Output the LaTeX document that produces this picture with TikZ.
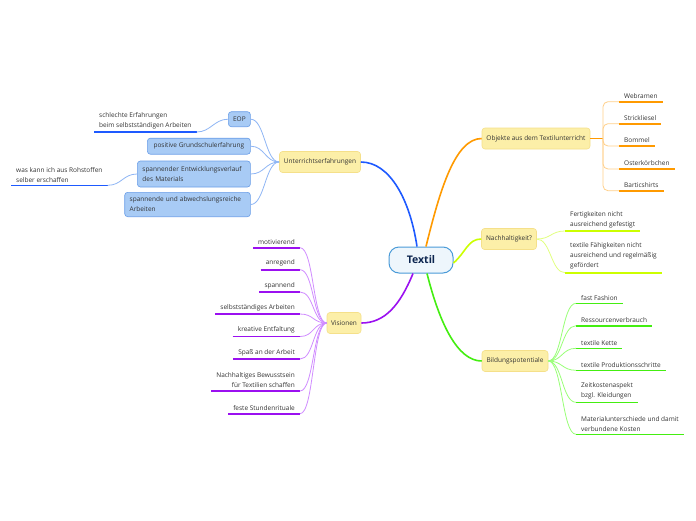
\documentclass[tikz,border=0pt]{standalone}
\usepackage{fontspec}
\setmainfont{Open Sans}
\definecolor{txtc}{HTML}{333333}
\definecolor{bmain}{HTML}{1E5AFF}
\definecolor{blight}{HTML}{8FB6F5}
\definecolor{bfill}{HTML}{A8CBF5}
\definecolor{bbord}{HTML}{6A9EE8}
\definecolor{yfill}{HTML}{FCEFA8}
\definecolor{ybord}{HTML}{F5E08A}
\definecolor{pmain}{HTML}{9B10F0}
\definecolor{plight}{HTML}{D08CFF}
\definecolor{omain}{HTML}{FF9A00}
\definecolor{olight}{HTML}{FFD08A}
\definecolor{ymain}{HTML}{CCFF00}
\definecolor{ylight}{HTML}{E2FF80}
\definecolor{gmain}{HTML}{44EE11}
\definecolor{glight}{HTML}{99FF77}
\definecolor{tbord}{HTML}{4A9BD8}
\definecolor{tfill}{HTML}{EEF6FC}
\definecolor{tnavy}{HTML}{0D2650}
\newcommand{\fsz}{\fontsize{6.5}{10}\selectfont}
\begin{document}
\begin{tikzpicture}[x=1pt,y=-1pt,
  txt/.style={font=\fsz, text=txtc},
  ybox/.style={txt, draw=ybord, fill=yfill, rounded corners=3pt, minimum height=21pt, inner sep=0pt, line width=0.6pt},
  bbox/.style={txt, draw=bbord, fill=bfill, rounded corners=3pt, inner xsep=5pt, inner ysep=2pt, align=left, anchor=east, line width=0.6pt},
  leafl/.style={txt, align=left, inner xsep=5pt, inner ysep=3pt, anchor=south west},
  leafr/.style={txt, align=right, inner xsep=5pt, inner ysep=3pt, anchor=south east},
  main/.style={line width=1.6pt},
  thin/.style={line width=0.8pt},
  ul/.style={line width=1.6pt},
]
\useasboundingbox (0,0) rectangle (696,520);
\fill[white] (0,0) rectangle (696,520);

% central
\node[draw=tbord, fill=tfill, line width=1pt, rounded corners=10pt, minimum width=64pt, minimum height=26pt, inner sep=0pt,
  font=\fontsize{10.5}{12}\bfseries\selectfont, text=tnavy] (textil) at (421,260) {Textil};

% main nodes
\node[ybox, minimum width=81pt] (unt) at (320,162) {Unterrichtserfahrungen};
\node[ybox, minimum width=34pt] (vis) at (344,323) {Visionen};
\node[ybox, minimum width=108pt] (obj) at (536,138.5) {Objekte aus dem Textilunterricht};
\node[ybox, minimum width=55pt] (nach) at (509,239) {Nachhaltigkeit?};
\node[ybox, minimum width=66pt] (bild) at (515,361) {Bildungspotentiale};

% main connectors
\draw[main, bmain] ([xshift=-4pt]textil.north) .. controls (410,200) and (390,162) .. (unt.east);
\draw[main, omain] ([xshift=5pt]textil.north) .. controls (440,190) and (455,138.5) .. (obj.west);
\draw[main, ymain] ([yshift=-3pt]textil.east) .. controls (466,252) and (468,239) .. (nach.west);
\draw[main, gmain] ([xshift=6pt]textil.south) .. controls (440,325) and (458,361) .. (bild.west);
\draw[main, pmain] ([xshift=-8pt]textil.south) .. controls (400,305) and (385,323) .. (vis.east);

% ---------- Unterrichtserfahrungen children
\node[bbox, minimum width=22pt, minimum height=15pt, align=center, inner xsep=2pt] (eop) at (250.7,119.2) {EOP};
\node[bbox, minimum width=103pt, minimum height=16pt] (pos) at (250.7,146.2) {positive Grundschulerfahrung};
\node[bbox, minimum width=113pt, minimum height=26pt, text width=103pt] (spd) at (250.7,174) {spannender Entwicklungsverlauf\\des Materials};
\node[bbox, minimum width=125.7pt, minimum height=24.4pt, text width=115.7pt] (spe) at (250.7,204.5) {spannende und abwechslungsreiche\\Arbeiten};
\foreach \n in {eop,pos,spd,spe}
  \draw[thin, blight] (unt.west) .. controls +(-14,0) and +(14,0) .. (\n.east);

\node[leafl] (schl) at (94,132) {schlechte Erfahrungen\\beim selbstständigen Arbeiten};
\node[leafl] (roh) at (11,185.3) {was kann ich aus Rohstoffen\\selber erschaffen};
\draw[ul, bmain] (schl.south west) -- (schl.south east);
\draw[ul, bmain] (roh.south west) -- (roh.south east);
\draw[thin, blight] (eop.west) .. controls +(-14,0) and +(14,0) .. (schl.south east);
\draw[thin, blight] (spd.west) .. controls +(-14,0) and +(14,0) .. (roh.south east);

% ---------- Visionen children
\node[leafr] (v1) at (300,247.7) {motivierend};
\node[leafr] (v2) at (300,269.7) {anregend};
\node[leafr] (v3) at (300,292) {spannend};
\node[leafr] (v4) at (300,314) {selbstständiges Arbeiten};
\node[leafr] (v5) at (300,336.5) {kreative Entfaltung};
\node[leafr] (v6) at (300,359) {Spaß an der Arbeit};
\node[leafr] (v7) at (300,391) {Nachhaltiges Bewusstsein\\für Textilien schaffen};
\node[leafr] (v8) at (300,413.7) {feste Stundenrituale};
\foreach \n in {v1,v2,v3,v4,v5,v6,v7,v8}{
  \draw[ul, pmain] (\n.south west) -- (\n.south east);
  \draw[thin, plight] (vis.west) .. controls +(-14,0) and +(14,0) .. (\n.south east);
}

% ---------- Objekte children
\coordinate (br) at (603,138.5);
\draw[main, omain] (obj.east) -- (br);
\node[leafl] (o1) at (619,101.7) {Webramen};
\node[leafl] (o2) at (619,123.7) {Strickliesel};
\node[leafl] (o3) at (619,146) {Bommel};
\node[leafl] (o4) at (619,169) {Osterkörbchen};
\node[leafl] (o5) at (619,190.7) {Barticshirts};
\foreach \n in {o1,o2,o3,o4,o5}{
  \draw[thin, olight, rounded corners=5pt] (br) |- (\n.south west);
  \draw[ul, omain] (\n.south west) -- (\n.south east);
}

% ---------- Nachhaltigkeit children
\node[leafl] (n1) at (565,231) {Fertigkeiten nicht\\ausreichend gefestigt};
\node[leafl] (n2) at (565,272.7) {textile Fähigkeiten nicht\\ausreichend und regelmäßig\\gefördert};
\foreach \n in {n1,n2}{
  \draw[ul, ymain] (\n.south west) -- (\n.south east);
  \draw[thin, ylight] (nach.east) .. controls +(14,0) and +(-14,0) .. (\n.south west);
}

% ---------- Bildungspotentiale children
\node[leafl] (b1) at (576,303.3) {fast Fashion};
\node[leafl] (b2) at (576,325.7) {Ressourcenverbrauch};
\node[leafl] (b3) at (576,348.3) {textile Kette};
\node[leafl] (b4) at (576,370.3) {textile Produktionsschritte};
\node[leafl] (b5) at (576,402.3) {Zeitkostenaspekt\\bzgl. Kleidungen};
\node[leafl] (b6) at (576,434.3) {Materialunterschiede und damit\\verbundene Kosten};
\foreach \n in {b1,b2,b3,b4,b5,b6}{
  \draw[ul, gmain] (\n.south west) -- (\n.south east);
  \draw[thin, glight] (bild.east) .. controls +(14,0) and +(-14,0) .. (\n.south west);
}
\end{tikzpicture}
\end{document}
